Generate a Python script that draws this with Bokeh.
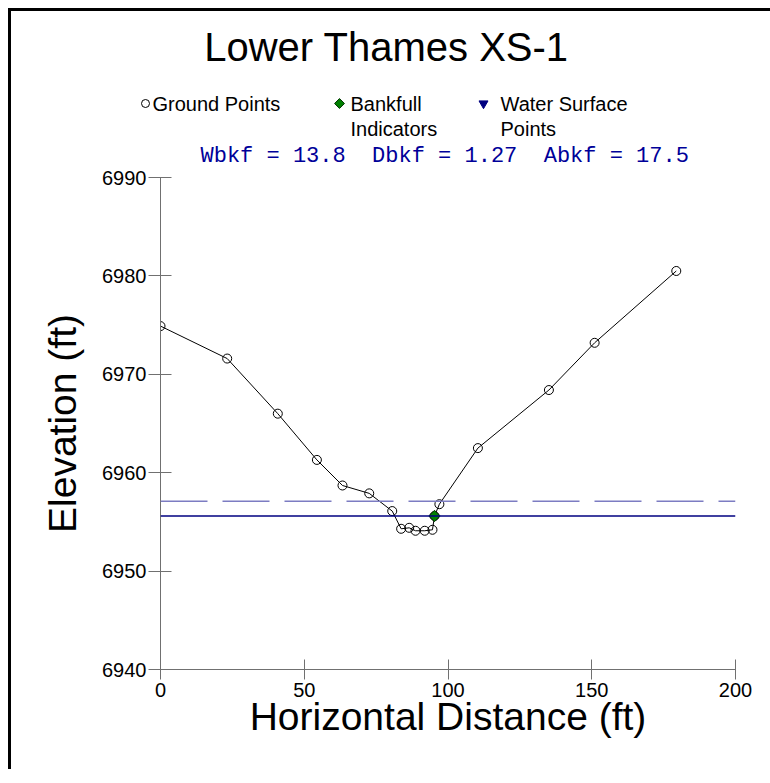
import math
from bokeh.plotting import figure
from bokeh.models import Range1d, Span, FixedTicker, ColumnDataSource
from bokeh.core.properties import value
from bokeh.embed import file_html
from bokeh.resources import INLINE

# ---- data ----
title_text = "Lower Thames XS-1"
ground_x = [0, 23.2, 40.8, 54.4, 63.3, 72.6, 80.6, 83.7, 86.5, 88.7, 91.9, 94.6, 95.3, 97.0, 110.4, 135.1, 151.0, 179.4]
ground_y = [6974.9, 6971.6, 6966.0, 6961.3, 6958.7, 6957.9, 6956.1, 6954.3, 6954.4, 6954.1, 6954.1, 6954.2,
            6955.6, 6956.8, 6962.5, 6968.4, 6973.2, 6980.5]
bankfull_x = [95.3]
bankfull_y = [6955.6]
water_surface_elev = 6955.6
bankfull_elev = 6957.1
x_ticks = [0, 50, 100, 150, 200]
y_ticks = [6940, 6950, 6960, 6970, 6980, 6990]
stats_labels = ["Wbkf = 13.8", "Dbkf = 1.27", "Abkf = 17.5"]
legend_labels = ["Ground Points", "Bankfull", "Water Surface"]
legend_second_lines = ["", "Indicators", "Points"]
legend_markers = ["circle", "square", "inverted_triangle"]
legend_angles = [0, math.pi / 4, 0]
legend_fill = [None, "#008000", "#000080"]
legend_line = ["black", "#003300", "#000080"]
legend_sizes = [8, 7, 9]

SANS = "Liberation Sans"
MONO = "Liberation Mono"

BW = 3                      # outer frame line width (CSS border)
W = 775
HH = 165                    # header canvas height
ML, MT, FW, FH, MB = 149, 11, 575, 492, 100
OVERLAP = (8 + HH) - (177 - MT)   # header bottom slides under the (transparent) top of the plot

# ---------------- header (title, legend, statistics) ----------------
hdr = figure(width=W, height=HH, x_range=Range1d(0, W), y_range=Range1d(HH, 0),
             output_backend="svg", toolbar_location=None,
             min_border=0, min_border_left=0, min_border_right=0,
             min_border_top=0, min_border_bottom=0)
hdr.axis.visible = False
hdr.grid.visible = False
hdr.outline_line_color = None
hdr.background_fill_color = "white"
hdr.border_fill_color = "white"
hdr.styles = {"margin-left": "8px", "margin-top": "8px",
              "border-left": f"{BW}px solid black", "border-top": f"{BW}px solid black"}

hdr.text(x=[375], y=[35], text=[title_text], text_font=value(SANS), text_font_size="40px",
         text_align="center", text_baseline="middle", text_color="black")

key_x = [134, 328, 472]
lab_x = [141, 339, 489]
hdr.scatter(x=key_x, y=[92, 92, 92], marker=legend_markers, size=legend_sizes, angle=legend_angles,
            fill_color=legend_fill, line_color=legend_line, line_width=1)
hdr.text(x=lab_x, y=[92] * 3, text=legend_labels, text_font=value(SANS), text_font_size="20px",
         text_align="left", text_baseline="middle", text_color="black")
hdr.text(x=lab_x, y=[117] * 3, text=legend_second_lines, text_font=value(SANS),
         text_font_size="20px", text_align="left", text_baseline="middle", text_color="black")

stats_x = [189, 360.6, 532.2]
hdr.text(x=stats_x, y=[145] * 3, text=stats_labels, text_font=value(MONO), text_font_size="22px",
         text_align="left", text_baseline="middle", text_color="#000099")

# ---------------- main cross-section plot ----------------
H = MT + FH + MB
p = figure(width=W, height=H, x_range=Range1d(0, 200), y_range=Range1d(6940, 6990),
           output_backend="svg", toolbar_location=None,
           min_border_left=ML, min_border_top=MT,
           min_border_right=W - ML - FW, min_border_bottom=MB)
p.styles = {"margin-left": "8px", "margin-top": f"{-OVERLAP}px",
            "border-left": f"{BW}px solid black"}
p.outline_line_color = None
p.xgrid.grid_line_color = None
p.ygrid.grid_line_color = None
p.background_fill_color = "white"
p.border_fill_color = None

for ax in (p.xaxis[0], p.yaxis[0]):
    ax.axis_line_color = "#707070"
    ax.major_tick_line_color = "#707070"
    ax.minor_tick_line_color = None
    ax.major_label_text_font = SANS
    ax.major_label_text_font_size = "20px"
    ax.major_label_text_color = "black"
    ax.axis_label_text_font = SANS
    ax.axis_label_text_font_size = "39px"
    ax.axis_label_text_font_style = "normal"
    ax.axis_label_text_color = "black"

p.xaxis.ticker = FixedTicker(ticks=x_ticks)
p.yaxis.ticker = FixedTicker(ticks=y_ticks)
p.xaxis.major_tick_in = 10
p.xaxis.major_tick_out = 10
p.yaxis.major_tick_in = 11
p.yaxis.major_tick_out = 12
p.xaxis.major_label_standoff = 3
p.yaxis.major_label_standoff = 2
p.xaxis.axis_label = "Horizontal Distance (ft)"
p.yaxis.axis_label = "Elevation (ft)"
p.xaxis.axis_label_standoff = -5
p.yaxis.axis_label_standoff = 15

p.add_layout(Span(location=bankfull_elev, dimension="width", line_color="#7c7cc2",
                  line_width=1.6, line_dash="47 15"))
p.add_layout(Span(location=water_surface_elev, dimension="width", line_color="#000080",
                  line_width=1.6))

src = ColumnDataSource(dict(x=ground_x, y=ground_y))
p.line("x", "y", source=src, line_color="black", line_width=1)
p.scatter("x", "y", source=src, marker="circle", size=9, fill_color=None,
          line_color="black", line_width=1)
p.scatter(bankfull_x, bankfull_y, marker="square", angle=math.pi / 4, size=8,
          fill_color="#008000", line_color="#003300", line_width=1)

open("out.html", "w").write(file_html([hdr, p], INLINE))
